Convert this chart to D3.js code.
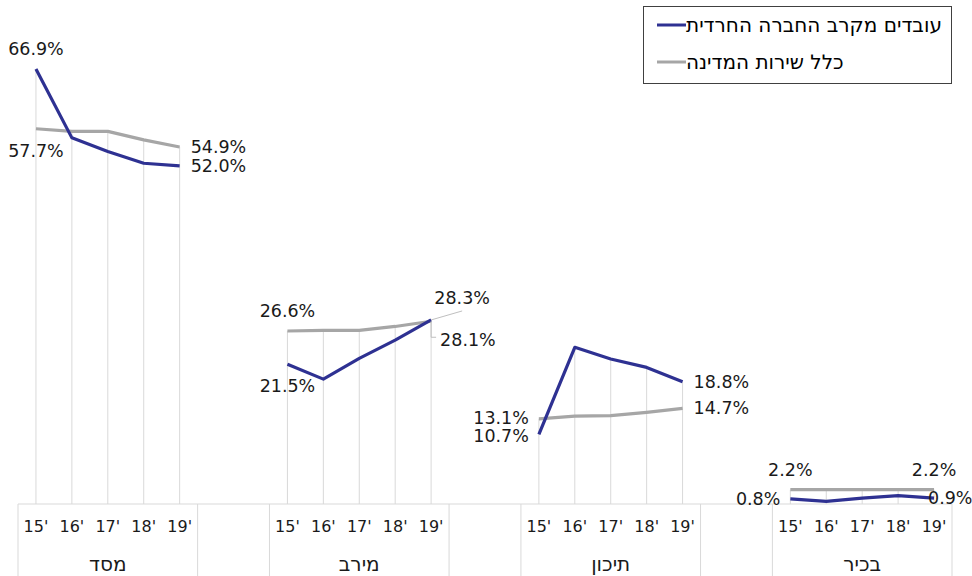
<!DOCTYPE html>
<html>
<head>
<meta charset="utf-8">
<script src="https://cdn.jsdelivr.net/npm/d3@7"></script>
<style>
  body { margin: 0; background: #fff; }
  svg { display: block; font-family: "DejaVu Sans", sans-serif; }
</style>
</head>
<body>
<div id="chart"></div>
<script>
const groups = ["מסד", "מירב", "תיכון", "בכיר"];
const years = ["15'", "16'", "17'", "18'", "19'"];
const seriesNames = ["עובדים מקרב החברה החרדית", "כלל שירות המדינה"];

// values per group, 2015..2019
const haredi = [
    [66.9, 56.3, 54.2, 52.4, 52.0],
    [21.5, 19.2, 22.4, 25.2, 28.3],
    [10.7, 24.1, 22.3, 21.0, 18.8],
    [0.8, 0.4, 0.9, 1.3, 0.9]
];
const general = [
    [57.7, 57.3, 57.3, 56.0, 54.9],
    [26.6, 26.7, 26.7, 27.3, 28.1],
    [13.1, 13.5, 13.6, 14.1, 14.7],
    [2.2, 2.2, 2.2, 2.2, 2.2]
];

// which points carry a label: [series, group, year index, placement]
const labels = [
    [0, 0, 0, "top"], [1, 0, 0, "bottom"], [1, 0, 4, "right"], [0, 0, 4, "right"],
    [1, 1, 0, "top"], [0, 1, 0, "bottom"], [0, 1, 4, "leaderUp"], [1, 1, 4, "leaderDown"],
    [1, 2, 0, "leftUp"], [0, 2, 0, "leftDown"], [0, 2, 4, "right"], [1, 2, 4, "right"],
    [1, 3, 0, "top"], [1, 3, 4, "top"], [0, 3, 0, "left"], [0, 3, 4, "rightTight"]
];

const COLORS = ["#2e3192", "#a6a6a6"];
const TEXT = "#1a1a1a";
const GRID = "#d9d9d9";
const width = 972, height = 576;
const axisY = 504;
const SLOTS_PER_GROUP = 7; // 5 years + 2 empty slots

const slotKeys = d3.range(groups.length * SLOTS_PER_GROUP - 2);
const x = d3.scaleBand().domain(slotKeys).range([18, 952]).padding(0);
const y = d3.scaleLinear().domain([0, 77.5]).range([axisY, 0]);

const cx = (g, i) => x(g * SLOTS_PER_GROUP + i) + x.bandwidth() / 2;
const allSeries = [haredi, general];

const svg = d3.select("#chart").append("svg")
    .attr("width", width)
    .attr("height", height);

// drop lines
const drops = [];
groups.forEach((g, gi) => {
    years.forEach((yr, i) => {
        drops.push({ x: cx(gi, i), v: Math.max(haredi[gi][i], general[gi][i]) });
    });
});
svg.append("g").selectAll("line")
    .data(drops)
    .join("line")
    .attr("x1", d => d.x).attr("x2", d => d.x)
    .attr("y1", d => y(d.v)).attr("y2", axisY)
    .attr("stroke", GRID).attr("stroke-width", 1);

// category axis: line, year labels, group boxes
const axis = svg.append("g");
axis.append("line")
    .attr("x1", x.range()[0]).attr("x2", x.range()[1])
    .attr("y1", axisY).attr("y2", axisY)
    .attr("stroke", GRID);

groups.forEach((g, gi) => {
    const left = x(gi * SLOTS_PER_GROUP);
    const right = x(gi * SLOTS_PER_GROUP + 4) + x.bandwidth();
    [left, right].forEach(px => {
        axis.append("line")
            .attr("x1", px).attr("x2", px)
            .attr("y1", axisY).attr("y2", height)
            .attr("stroke", GRID);
    });
    axis.selectAll(null)
        .data(years)
        .join("text")
        .attr("x", (d, i) => cx(gi, i))
        .attr("y", 526)
        .attr("text-anchor", "middle")
        .attr("dominant-baseline", "central")
        .attr("font-size", 16)
        .attr("fill", TEXT)
        .text(d => d);
    axis.append("text")
        .attr("x", (left + right) / 2)
        .attr("y", 564)
        .attr("text-anchor", "middle")
        .attr("dominant-baseline", "central")
        .attr("font-size", 20)
        .attr("fill", TEXT)
        .text(g);
});

// lines, one segment per group
const line = d3.line()
    .x(d => d.x)
    .y(d => y(d.v));

[1, 0].forEach(s => {
    svg.append("g").selectAll("path")
        .data(allSeries[s].map((vals, gi) => vals.map((v, i) => ({ x: cx(gi, i), v }))))
        .join("path")
        .attr("d", line)
        .attr("fill", "none")
        .attr("stroke", COLORS[s])
        .attr("stroke-width", 3.2)
        .attr("stroke-linejoin", "round");
});

// data labels
const fmt = v => v.toFixed(1) + "%";
const lab = svg.append("g")
    .attr("font-size", 17.5)
    .attr("fill", TEXT);

labels.forEach(([s, gi, i, pos]) => {
    const px = cx(gi, i);
    const py = y(allSeries[s][gi][i]);
    let tx = px, ty = py, anchor = "middle";
    if (pos === "top") { ty = py - 20; }
    else if (pos === "bottom") { ty = py + 22; }
    else if (pos === "right") { tx = px + 11; anchor = "start"; }
    else if (pos === "left") { tx = px - 10; anchor = "end"; }
    else if (pos === "leftUp") { tx = px - 10; ty = py - 1; anchor = "end"; }
    else if (pos === "leftDown") { tx = px - 10; ty = py + 2; anchor = "end"; }
    else if (pos === "rightTight") { tx = px - 6; anchor = "start"; }
    else if (pos === "leaderUp") {
        tx = px + 31; ty = py - 22;
        lab.append("line")
            .attr("x1", px).attr("y1", py)
            .attr("x2", px + 31).attr("y2", py - 9)
            .attr("stroke", "#bfbfbf");
    } else if (pos === "leaderDown") {
        tx = px + 9; ty = py + 19; anchor = "start";
        lab.append("path")
            .attr("d", `M${px},${py}V${py + 16}H${px + 5}`)
            .attr("fill", "none")
            .attr("stroke", "#bfbfbf");
    }
    lab.append("text")
        .attr("x", tx).attr("y", ty)
        .attr("text-anchor", anchor)
        .attr("dominant-baseline", "central")
        .text(fmt(allSeries[s][gi][i]));
});

// legend
const legend = svg.append("g");
legend.append("rect")
    .attr("x", 643.5).attr("y", 6.5)
    .attr("width", 308).attr("height", 77)
    .attr("fill", "#fff")
    .attr("stroke", "#404040");
seriesNames.forEach((name, s) => {
    const ly = 25 + s * 37;
    legend.append("line")
        .attr("x1", 657).attr("x2", 686)
        .attr("y1", ly).attr("y2", ly)
        .attr("stroke", COLORS[s])
        .attr("stroke-width", 3);
    legend.append("text")
        .attr("x", 686).attr("y", ly)
        .attr("dominant-baseline", "central")
        .attr("font-size", 20)
        .attr("fill", "#000")
        .text(name);
});
</script>
</body>
</html>
